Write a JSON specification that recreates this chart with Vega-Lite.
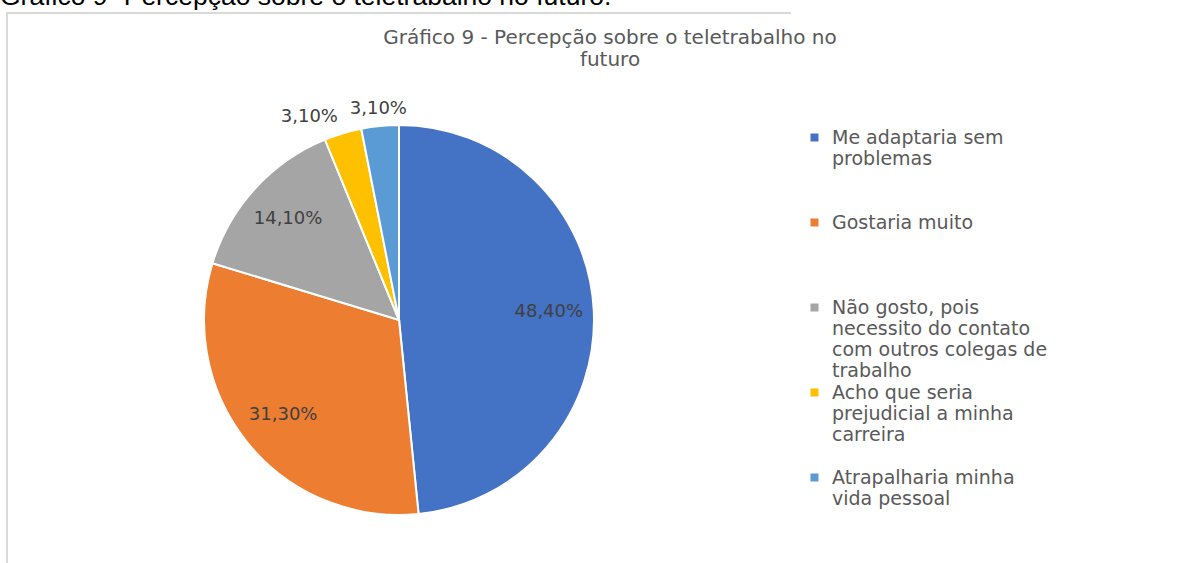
{
  "$schema": "https://vega.github.io/schema/vega-lite/v6.json",
  "padding": {"left": 0, "right": 0, "top": -17, "bottom": 0},
  "background": "white",
  "title": {
    "text": "Gráfico 9- Percepção sobre o teletrabalho no futuro.",
    "anchor": "start",
    "frame": "group",
    "font": "Liberation Sans",
    "fontSize": 26.5,
    "fontWeight": "normal",
    "color": "#000000",
    "baseline": "alphabetic",
    "offset": -19,
    "dx": -7
  },
  "vconcat": [
    {
      "width": 784,
      "height": 614,
      "view": {"stroke": "#d9d9d9", "strokeWidth": 2, "strokeDash": [784, 1398, 614, 10]},
      "title": {
        "text": ["Gráfico 9 - Percepção sobre o teletrabalho no", "futuro"],
        "anchor": "start",
        "frame": "group",
        "align": "center",
        "dx": 603,
        "font": "DejaVu Sans",
        "fontSize": 20,
        "fontWeight": "normal",
        "color": "#595959",
        "lineHeight": 22,
        "offset": -57
      },
      "data": {
        "values": [
          {"categoria": "Me adaptaria sem problemas", "valor": 0.484},
          {"categoria": "Gostaria muito", "valor": 0.313},
          {"categoria": "Não gosto, pois necessito do contato com outros colegas de trabalho", "valor": 0.141},
          {"categoria": "Acho que seria prejudicial a minha carreira", "valor": 0.031},
          {"categoria": "Atrapalharia minha vida pessoal", "valor": 0.031}
        ]
      },
      "encoding": {
        "theta": {"field": "valor", "type": "quantitative", "stack": true},
        "order": {"field": "valor", "type": "quantitative", "sort": "descending"}
      },
      "layer": [
        {
          "mark": {"type": "arc", "outerRadius": 195, "stroke": "white", "strokeWidth": 2},
          "encoding": {
            "color": {
              "field": "categoria",
              "type": "nominal",
              "sort": [
                "Me adaptaria sem problemas",
                "Gostaria muito",
                "Não gosto, pois necessito do contato com outros colegas de trabalho",
                "Acho que seria prejudicial a minha carreira",
                "Atrapalharia minha vida pessoal"
              ],
              "scale": {
                "domain": [
                  "Me adaptaria sem problemas",
                  "Gostaria muito",
                  "Não gosto, pois necessito do contato com outros colegas de trabalho",
                  "Acho que seria prejudicial a minha carreira",
                  "Atrapalharia minha vida pessoal"
                ],
                "range": ["#4472C4", "#ED7D31", "#A5A5A5", "#FFC000", "#5B9BD5"]
              },
              "legend": {
                "orient": "none",
                "legendX": 798,
                "legendY": 115,
                "title": null,
                "symbolType": "square",
                "symbolSize": 64,
                "symbolStrokeWidth": 0,
                "labelFont": "DejaVu Sans",
                "labelFontSize": 19,
                "labelColor": "#595959",
                "labelLimit": 500,
                "labelOffset": 8,
                "labelBaseline": "top",
                "gridAlign": "all",
                "rowPadding": 2,
                "padding": 0,
                "labelExpr": "datum.label == 'Me adaptaria sem problemas' ? ['Me adaptaria sem', 'problemas'] : datum.label == 'Não gosto, pois necessito do contato com outros colegas de trabalho' ? ['Não gosto, pois', 'necessito do contato', 'com outros colegas de', 'trabalho'] : datum.label == 'Acho que seria prejudicial a minha carreira' ? ['Acho que seria', 'prejudicial a minha', 'carreira'] : datum.label == 'Atrapalharia minha vida pessoal' ? ['Atrapalharia minha', 'vida pessoal'] : datum.label"
              }
            }
          }
        },
        {
          "mark": {"type": "text", "radius": 150, "font": "DejaVu Sans", "fontSize": 18, "fill": "#404040"},
          "encoding": {
            "text": {"condition": {"test": "datum.valor > 0.05", "field": "valor", "type": "quantitative", "format": ".2%"}, "value": ""}
          }
        },
        {
          "mark": {"type": "text", "radius": 212, "align": "right", "font": "DejaVu Sans", "fontSize": 18, "fill": "#404040"},
          "encoding": {
            "text": {"condition": {"test": "datum.categoria == 'Acho que seria prejudicial a minha carreira'", "field": "valor", "type": "quantitative", "format": ".2%"}, "value": ""}
          }
        },
        {
          "mark": {"type": "text", "radius": 212, "align": "center", "font": "DejaVu Sans", "fontSize": 18, "fill": "#404040"},
          "encoding": {
            "text": {"condition": {"test": "datum.categoria == 'Atrapalharia minha vida pessoal'", "field": "valor", "type": "quantitative", "format": ".2%"}, "value": ""}
          }
        }
      ]
    }
  ],
  "config": {
    "locale": {"number": {"decimal": ",", "thousands": ".", "grouping": [3], "currency": ["R$", ""]}},
    "style": {"guide-label": {"dy": -9, "lineHeight": 21}}
  }
}
